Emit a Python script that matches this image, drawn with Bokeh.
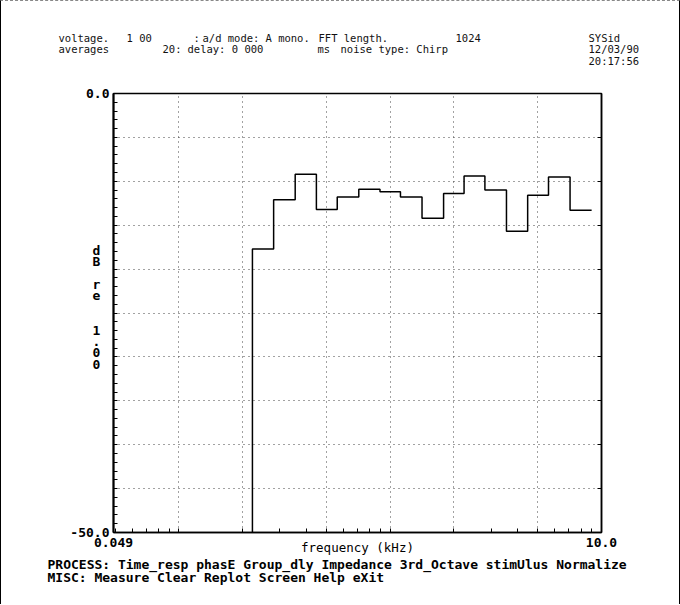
import numpy as np
from bokeh.plotting import figure
from bokeh.layouts import column
from bokeh.models import FixedTicker, LinearAxis
from bokeh.core.properties import value
from bokeh.embed import file_html
from bokeh.resources import INLINE

# ---------------- data ----------------
band_centers_khz = [0.25, 0.315, 0.4, 0.5, 0.63, 0.8, 1.0, 1.25,
                    1.6, 2.0, 2.5, 3.15, 4.0, 5.0, 6.3, 8.0]
band_levels_db = [-17.7, -12.1, -9.2, -13.2, -11.8, -10.9, -11.2, -11.8,
                  -14.2, -11.4, -9.4, -11.0, -15.7, -11.6, -9.5, -13.3]
floor_db = -50.0

x_limits = [0.049, 10.0]
x_tick_labels = ["0.049", "10.0"]
y_limits = [-50.0, 0.0]
y_tick_labels = ["-50.0", "0.0"]
x_grid_khz = [0.1, 0.2, 0.5, 1.0, 2.0, 5.0]
y_grid_db = [-45, -40, -35, -30, -25, -20, -15, -10, -5]
x_minor_khz = [0.05, 0.06, 0.07, 0.08, 0.09, 0.1, 0.2, 0.3, 0.4, 0.5, 0.6,
               0.7, 0.8, 0.9, 1.0, 2.0, 3.0, 4.0, 5.0, 6.0, 7.0, 8.0, 9.0]
y_minor_db = list(range(-49, 0))

x_axis_title = "frequency (kHz)"
y_axis_title = "d\nB\n\nr\ne\n\n\n1\n.\n0\n0\n "

header_texts = ["voltage.", "1 00", ":", "a/d mode:", "A mono.", "FFT length.", "1024",
                "averages", "20:", "delay: 0 000", "ms", "noise type: Chirp",
                "SYSid", "12/03/90", "20:17:56"]
header_x = [58, 126, 193, 202, 265, 318, 455,
            58, 162, 187, 317, 340,
            588, 588, 588]
header_y = [37, 37, 37, 37, 37, 37, 37,
            48.5, 48.5, 48.5, 48.5, 48.5,
            37, 48.5, 60]

menu_lines = ["PROCESS: Time_resp phasE Group_dly Impedance 3rd_Octave stimUlus Normalize",
              "MISC: Measure Clear Replot Screen Help eXit"]
menu_x = [47, 47]
menu_y = [564, 577]

# ---------------- step curve from band data ----------------
c = np.array(band_centers_khz)
edges = np.concatenate([[c[0] / 2 ** (1 / 6)], np.sqrt(c[:-1] * c[1:]), [c[-1] * 2 ** (1 / 6)]])
xs = [edges[0]]
ys = [floor_db]
for i, lev in enumerate(band_levels_db):
    xs += [edges[i], edges[i + 1]]
    ys += [lev, lev]

MONO = "DejaVu Sans Mono"
BORDER = 1                      # page frame line drawn by CSS
W = 680 - 2 * BORDER
HEAD_H = 80 - BORDER
ML, MT, MB = 113 - BORDER, 13, 25
FRAME_W, FRAME_H = 488, 439
MR = W - ML - FRAME_W
MAIN_H = MT + FRAME_H + MB
FOOT_H = 605 - BORDER - HEAD_H - MAIN_H - 1


def text_panel(h, y0):
    f = figure(width=W, height=h, x_range=(BORDER, BORDER + W), y_range=(y0 + h, y0),
               output_backend="svg", toolbar_location=None,
               x_axis_location=None, y_axis_location=None, min_border=0)
    f.outline_line_color = None
    f.grid.visible = False
    f.background_fill_color = "white"
    f.border_fill_color = "white"
    return f


# ---------------- header ----------------
head = text_panel(HEAD_H, BORDER)
head.text(x=header_x, y=header_y, text=header_texts, text_font=value(MONO),
          text_font_size="10.5px", text_baseline="middle", text_align="left",
          text_color="#111111")

# ---------------- main plot ----------------
p = figure(width=W, height=MAIN_H, x_axis_type="log",
           x_range=(x_limits[0], x_limits[1]), y_range=(y_limits[0], y_limits[1]),
           output_backend="svg", toolbar_location=None,
           min_border_left=ML, min_border_right=MR, min_border_top=MT, min_border_bottom=MB)
p.background_fill_color = "white"
p.border_fill_color = "white"
p.outline_line_color = "black"
p.outline_line_width = 1.5

xa = p.xaxis[0]
xa.ticker = FixedTicker(ticks=x_limits, minor_ticks=x_minor_khz)
xa.major_label_overrides = {x_limits[0]: x_tick_labels[0], x_limits[1]: x_tick_labels[1]}
xa.major_tick_in = 0
xa.major_tick_out = 0
xa.minor_tick_in = 4
xa.minor_tick_out = 0
xa.axis_line_width = 1.5
xa.axis_line_color = "black"
xa.minor_tick_line_color = "black"
xa.major_label_standoff = 5
xa.major_label_text_font = MONO
xa.major_label_text_font_style = "bold"
xa.major_label_text_font_size = "13px"
xa.major_label_text_color = "black"
xa.axis_label = x_axis_title
xa.axis_label_standoff = -10
xa.axis_label_text_font = MONO
xa.axis_label_text_font_style = "normal"
xa.axis_label_text_font_size = "12.5px"
xa.axis_label_text_color = "black"

ya = p.yaxis[0]
ya.ticker = FixedTicker(ticks=y_limits, minor_ticks=y_minor_db)
ya.major_label_overrides = {int(y_limits[0]): y_tick_labels[0], int(y_limits[1]): y_tick_labels[1]}
ya.major_tick_in = 0
ya.major_tick_out = 0
ya.minor_tick_in = 4
ya.minor_tick_out = 0
ya.axis_line_width = 2
ya.axis_line_color = "black"
ya.minor_tick_line_color = "black"
ya.major_label_standoff = 4
ya.major_label_text_font = MONO
ya.major_label_text_font_style = "bold"
ya.major_label_text_font_size = "13px"
ya.major_label_text_color = "black"
ya.axis_label = y_axis_title
ya.axis_label_orientation = "horizontal"
ya.axis_label_standoff = -33
ya.axis_label_text_font = MONO
ya.axis_label_text_font_style = "bold"
ya.axis_label_text_font_size = "13px"
ya.axis_label_text_line_height = 0.76
ya.axis_label_text_color = "black"

ra = LinearAxis(ticker=FixedTicker(ticks=[], minor_ticks=y_grid_db))
ra.minor_tick_in = 4
ra.minor_tick_out = 0
ra.axis_line_width = 1.5
ra.axis_line_color = "black"
ra.minor_tick_line_color = "black"
p.add_layout(ra, "right")

p.xgrid.ticker = FixedTicker(ticks=x_grid_khz)
p.ygrid.ticker = FixedTicker(ticks=y_grid_db)
p.grid.grid_line_color = "#444444"
p.grid.grid_line_dash = "1 4"
p.grid.grid_line_width = 1

p.line(xs, ys, line_color="black", line_width=1.5)

# ---------------- footer ----------------
foot = text_panel(FOOT_H, BORDER + HEAD_H + MAIN_H)
foot.text(x=menu_x, y=menu_y, text=menu_lines, text_font=value(MONO),
          text_font_size="13px", text_font_style="bold", text_baseline="middle",
          text_align="left", text_color="black")

layout = column(column(head), column(p), column(foot), spacing=0,
                styles={"border-left": "1px solid #000000",
                        "border-right": "1px solid #000000",
                        "border-top": "1px dashed #888888"})
open("out.html", "w").write(file_html(layout, INLINE))
